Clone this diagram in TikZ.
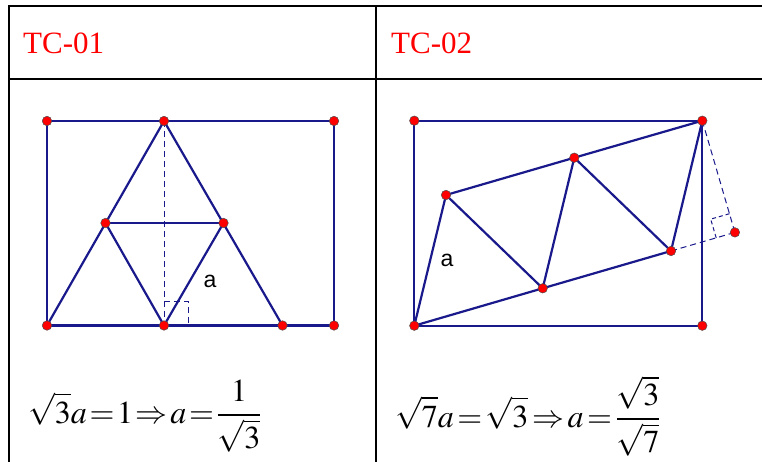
\documentclass[tikz,border=0pt]{standalone}
\usepackage{mathptmx}
\usepackage{fontspec}
\usetikzlibrary{calc}
\newfontfamily\tnr{Liberation Serif}
\newfontfamily\arial{Liberation Sans}
\definecolor{navyline}{RGB}{25,25,140}
\definecolor{ptred}{RGB}{255,0,0}
\tikzset{
  grid/.style={line width=2.6pt, black},
  edge/.style={line width=2.2pt, navyline, line cap=round},
  rect/.style={line width=2pt, navyline},
  aux/.style={line width=1pt, navyline, dash pattern=on 6pt off 4pt},
  dot/.style={circle, fill=ptred, draw=black!70, line width=0.5pt, inner sep=0pt, minimum size=9.5pt},
  head/.style={anchor=base west, inner sep=0pt, text=red, font=\tnr\fontsize{31}{36}\selectfont},
  formula/.style={anchor=base west, inner sep=0pt, font=\fontsize{32}{38}\selectfont},
  lbl/.style={inner sep=0pt, font=\arial\fontsize{23}{26}\selectfont}
}
\begin{document}
\begin{tikzpicture}[x=1pt,y=-1pt]
\useasboundingbox (0,0) rectangle (762,462);
\fill[white] (0,0) rectangle (762,462);
% table
\coordinate (tl) at (9,6);
\coordinate (tr) at (762,6);
\coordinate (bl) at (9,462);
\coordinate (hl) at (9,79);
\coordinate (hr) at (762,79);
\coordinate (mt) at (376,6);
\coordinate (mb) at (376,462);
\draw[grid] (tr) -- (tl) -- (bl);
\draw[grid] (hl) -- (hr);
\draw[grid] (mt) -- (mb);
\node[head] (h1) at (23,54) {TC-01};
\node[head] (h2) at (391,54) {TC-02};
% ---- figure 1
\coordinate (A1) at (47,121);
\coordinate (A2) at (164,121);
\coordinate (A3) at (334,121);
\coordinate (B1) at (47,325.5);
\coordinate (B2) at (164,325.5);
\coordinate (B3) at (282.5,325.5);
\coordinate (B4) at (334,325.5);
\coordinate (M1) at (105.5,223);
\coordinate (M2) at (223.5,223);
\draw[rect] (A1) -- (A3) -- (B4) -- (B1) -- cycle;
\draw[edge] (B1) -- (A2) -- (B3);
\draw[edge] (M1) -- (M2);
\draw[edge] (M1) -- (B2) -- (M2);
\draw[edge] (B1) -- (B4);
\draw[aux] (A2) -- (B2);
\draw[aux] (164,301.3) -- (188.5,301.3) -- (188.5,325.5);
\node[lbl] (la) at (210,281) {a};
\foreach \p in {A1,A2,A3,B1,B2,B3,B4,M1,M2} \node[dot] at (\p) {};
% ---- figure 2
\coordinate (C1) at (414.3,120.7);
\coordinate (C2) at (702.3,120.7);
\coordinate (C3) at (414.3,325.7);
\coordinate (C4) at (702.3,325.7);
\coordinate (P1) at (446,195);
\coordinate (P2) at (574.3,157.7);
\coordinate (P3) at (542.7,288.3);
\coordinate (P4) at (671,251);
\coordinate (F) at (734.9,232.4);
\draw[rect] (C3) -- (C1) -- (C2) -- (C4) -- cycle;
\draw[edge] (C3) -- (P1) -- (P2) -- (C2);
\draw[edge] (C3) -- (P3) -- (P4);
\draw[edge] (P1) -- (P3) -- (P2) -- (P4) -- (C2);
\draw[aux] (C2) -- (F);
\draw[aux] (P4) -- (F);
\draw[aux, dash pattern=on 4pt off 3pt] ($(F)+(-18.7,5.45)$) -- ($(F)+(-24.2,-13.25)$) -- ($(F)+(-5.45,-18.7)$);
\node[lbl] (lb) at (447,260) {a};
\foreach \p in {C1,C2,C3,C4,P1,P2,P3,P4,F} \node[dot] at (\p) {};
% formulas
\node[formula] (f1) at (28,423) {$\thickmuskip=1.5mu\displaystyle \sqrt{3}a=1\Rightarrow a=\frac{1}{\sqrt{3}}$};
\node[formula] (f2) at (395,427) {$\thickmuskip=2mu\displaystyle \sqrt{7}a=\sqrt{3}\Rightarrow a=\frac{\sqrt{3}}{\sqrt{7}}$};
\end{tikzpicture}
\end{document}
